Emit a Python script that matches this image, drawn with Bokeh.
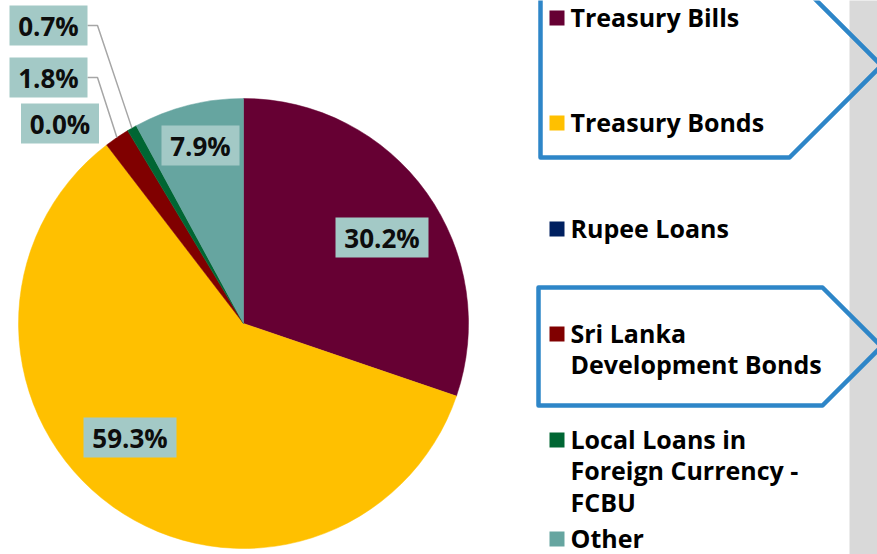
import math
from bokeh.plotting import figure
from bokeh.models import Range1d, ColumnDataSource
from bokeh.embed import file_html
from bokeh.resources import INLINE
from bokeh.core.properties import value

# ---------------- data ----------------
categories = ["Treasury Bills", "Treasury Bonds", "Rupee Loans",
              "Sri Lanka Development Bonds",
              "Local Loans in Foreign Currency - FCBU", "Other"]
legend_lines = [["Treasury Bills"], ["Treasury Bonds"], ["Rupee Loans"],
                ["Sri Lanka", "Development Bonds"],
                ["Local Loans in", "Foreign Currency -", "FCBU"], ["Other"]]
shares = [30.2, 59.3, 0.0, 1.8, 0.7, 7.9]
colors = ["#660033", "#FFC000", "#002060", "#800000", "#006633", "#66A5A0"]

# ---------------- layout (image-pixel coordinates, y down) ----------------
W, H = 877, 554
PW, PH = 877, 554
FONT = value("Open Sans")
BASE_FIX = 9  # empirical shift of rendered alphabetic baseline

def Y(yimg):
    return H - yimg

p = figure(width=PW, height=PH, x_range=Range1d(0, W), y_range=Range1d(0, H),
           output_backend="svg", toolbar_location=None, min_border=0)
p.axis.visible = False
p.grid.visible = False
p.outline_line_color = None
p.background_fill_color = "white"
p.border_fill_color = "white"

# gray strip at right
p.quad(left=[849], right=[W + 20], bottom=[-20], top=[H + 20],
       fill_color="#D9D9D9", line_color=None)

# pie
cx, cy, R = 243, Y(323), 225
total = sum(shares)
starts, ends, mids = [], [], []
a = math.pi / 2
for s in shares:
    e = a - 2 * math.pi * s / total
    starts.append(a)
    ends.append(e)
    mids.append((a + e) / 2)
    a = e
idx = [i for i, s in enumerate(shares) if s > 0]
src = ColumnDataSource(dict(
    x=[cx] * len(idx), y=[cy] * len(idx),
    start=[starts[i] for i in idx], end=[ends[i] for i in idx],
    color=[colors[i] for i in idx]))
p.wedge(x="x", y="y", radius=R, start_angle="start", end_angle="end",
        direction="clock", fill_color="color", line_color="color",
        line_width=0.5, source=src)

# data labels
label_pos = [(381.5, 237), (129.5, 437), (59.5, 123), (48, 77), (48, 25), (200, 145)]
leader = [False, False, False, True, True, False]
box_h = 40
lx, ly, lw, lt = [], [], [], []
for i, s in enumerate(shares):
    bx, by = label_pos[i]
    w = 93 if s >= 10 else 78
    lx.append(bx); ly.append(Y(by)); lw.append(w); lt.append(f"{s:.1f}%")
    if leader[i]:
        ex = cx + R * math.cos(mids[i])
        ey = cy + R * math.sin(mids[i])
        x0 = bx + w / 2
        p.line([x0, x0 + 10, ex], [Y(by), Y(by), ey],
               line_color="#A6A6A6", line_width=1.5)
p.rect(x=lx, y=ly, width=lw, height=[box_h] * len(lx),
       fill_color="#A3C9C6", line_color=None)
p.text(x=lx, y=[v - 9.5 + BASE_FIX for v in ly], text=lt, text_align="center",
       text_baseline="alphabetic", text_font=FONT, text_font_style="bold",
       text_font_size="26px", text_color="#0D0D0D")

# callout shapes
callout_x = [[540, 540, 789, 881, 789], [538, 538, 822, 881, 822]]
callout_y = [[Y(-27), Y(157), Y(157), Y(65), Y(-27)],
             [Y(287), Y(405), Y(405), Y(346), Y(287)]]
p.patches(callout_x, callout_y, fill_alpha=0, line_color="#2E86C8",
          line_width=4.5, line_join="round")

# legend
first_base = [25, 130, 236, 341, 447, 546]
line_gap = 31.5
tx, ty, tt = [], [], []
for i, lines in enumerate(legend_lines):
    b = first_base[i]
    p.quad(left=[549], right=[564], top=[Y(b - 15)], bottom=[Y(b)],
           fill_color=colors[i], line_color=None)
    for k, ln in enumerate(lines):
        tx.append(570); ty.append(Y(b + k * line_gap) + BASE_FIX); tt.append(ln)
p.text(x=tx, y=ty, text=tt, text_align="left", text_baseline="alphabetic",
       text_font=FONT, text_font_style="bold", text_font_size="25px",
       text_color="#000000")

open("out.html", "w").write(file_html(p, INLINE))
